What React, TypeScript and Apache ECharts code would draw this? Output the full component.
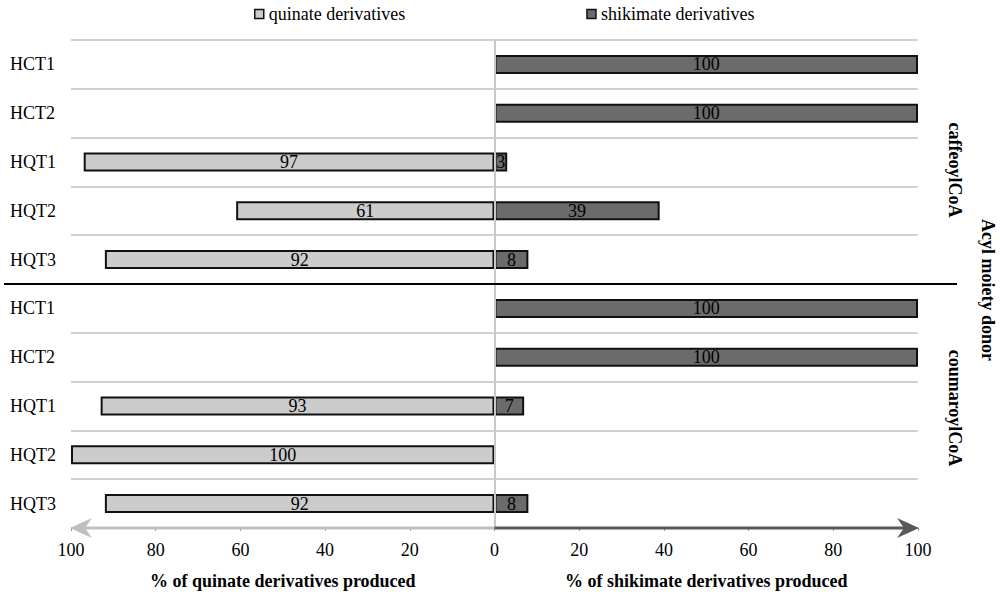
import React, { useEffect, useRef } from "react";
import * as echarts from "echarts";

const enzymes = ["HCT1", "HCT2", "HQT1", "HQT2", "HQT3"];
const donors = ["caffeoylCoA", "coumaroylCoA"];
const quinateCaffeoyl = [0, 0, 97, 61, 92];
const shikimateCaffeoyl = [100, 100, 3, 39, 8];
const quinateCoumaroyl = [0, 0, 93, 100, 92];
const shikimateCoumaroyl = [100, 100, 7, 0, 8];
const xTicks = [-100, -80, -60, -40, -20, 0, 20, 40, 60, 80, 100];
const seriesNames = ["quinate derivatives", "shikimate derivatives"];
const axisTitles = ["% of quinate derivatives produced", "% of shikimate derivatives produced"];
const groupTitle = "Acyl moiety donor";

const FONT = '"Liberation Serif", "Times New Roman", serif';

export default function App() {
  const ref = useRef<HTMLDivElement>(null);

  useEffect(() => {
    if (!ref.current) return;
    const chart = echarts.init(ref.current, null, { renderer: "svg" });

    const categories: string[] = [];
    donors.forEach((d) => enzymes.forEach((e) => categories.push(d + "|" + e)));
    const quinate = [...quinateCaffeoyl, ...quinateCoumaroyl].map((v) => (v === 0 ? "-" : -v));
    const shikimate = [...shikimateCaffeoyl, ...shikimateCoumaroyl].map((v) => (v === 0 ? "-" : v));

    const labelCfg = {
      show: true,
      position: "inside",
      color: "#000",
      fontFamily: FONT,
      fontSize: 18,
      formatter: (p: any) => String(Math.abs(p.value)),
    };

    chart.setOption({
      animation: false,
      backgroundColor: "#fff",
      textStyle: { fontFamily: FONT },
      legend: {
        data: seriesNames,
        left: 249,
        top: 0,
        icon: "rect",
        itemWidth: 9,
        itemHeight: 9,
        itemGap: 181,
        itemStyle: { borderColor: "#111", borderWidth: 1.5 },
        textStyle: { fontFamily: FONT, fontSize: 18, color: "#000" },
      },
      grid: { left: 71, right: 82, top: 40, bottom: 70, outerBoundsMode: "none" },
      xAxis: {
        type: "value",
        min: xTicks[0],
        max: xTicks[xTicks.length - 1],
        interval: 20,
        axisLine: { show: false },
        axisTick: { show: true, length: 3, lineStyle: { color: "#9a9a9a", width: 1 } },
        splitLine: { show: false },
        axisLabel: {
          margin: 13,
          color: "#000",
          fontFamily: FONT,
          fontSize: 18,
          formatter: (v: number) => String(Math.abs(v)),
        },
      },
      yAxis: {
        type: "category",
        inverse: true,
        data: categories,
        axisLine: { show: false },
        axisTick: { show: false },
        splitLine: { show: true, lineStyle: { color: "#d0d0d0", width: 2 } },
        axisLabel: {
          align: "left",
          margin: 61,
          color: "#000",
          fontFamily: FONT,
          fontSize: 18,
          formatter: (v: string) => v.split("|")[1],
        },
      },
      series: [
        {
          name: seriesNames[0],
          type: "bar",
          data: quinate,
          barWidth: 19,
          barGap: "-100%",
          itemStyle: { color: "#cccccc", borderColor: "#111", borderWidth: 2 },
          label: labelCfg,
          markLine: {
            silent: true,
            symbol: ["none", "none"],
            label: { show: false },
            lineStyle: { color: "#c8c8c8", width: 2, type: "solid" },
            data: [{ xAxis: 0 }],
          },
        },
        {
          name: seriesNames[1],
          type: "bar",
          data: shikimate,
          barWidth: 19,
          barGap: "-100%",
          itemStyle: { color: "#6b6b6b", borderColor: "#111", borderWidth: 2 },
          label: labelCfg,
        },
      ],
    });

    const px = (v: number) => chart.convertToPixel({ xAxisIndex: 0 }, v) as number;
    const py = (i: number) => chart.convertToPixel({ yAxisIndex: 0 }, categories[i]) as number;
    const x0 = px(0);
    const xL = px(-100);
    const xR = px(100);
    const band = py(1) - py(0);
    const yBottom = py(categories.length - 1) + band / 2;
    const yDivider = (py(4) + py(5)) / 2;
    const yTopMid = (py(0) + py(4)) / 2;
    const yBotMid = (py(5) + py(9)) / 2;

    const arrowHead = (tip: number, dir: number, color: string) => ({
      type: "polygon",
      shape: {
        points: [
          [tip, yBottom],
          [tip + dir * 22, yBottom - 10],
          [tip + dir * 15, yBottom],
          [tip + dir * 22, yBottom + 10],
        ],
      },
      style: { fill: color },
      z: 10,
    });

    chart.setOption({
      graphic: [
        {
          type: "line",
          shape: { x1: xL + 10, y1: yBottom, x2: x0, y2: yBottom },
          style: { stroke: "#bfbfbf", lineWidth: 3 },
          z: 10,
        },
        {
          type: "line",
          shape: { x1: x0, y1: yBottom, x2: xR - 10, y2: yBottom },
          style: { stroke: "#595959", lineWidth: 3 },
          z: 10,
        },
        arrowHead(xL - 1, 1, "#bfbfbf"),
        arrowHead(xR + 1, -1, "#595959"),
        {
          type: "line",
          shape: { x1: 4, y1: yDivider, x2: 957, y2: yDivider },
          style: { stroke: "#000", lineWidth: 2 },
          z: 10,
        },
        {
          type: "text",
          x: (xL + x0) / 2,
          y: 581,
          style: { text: axisTitles[0], font: `bold 18px ${FONT}`, fill: "#000", align: "center", verticalAlign: "middle" },
        },
        {
          type: "text",
          x: (x0 + xR) / 2,
          y: 581,
          style: { text: axisTitles[1], font: `bold 18px ${FONT}`, fill: "#000", align: "center", verticalAlign: "middle" },
        },
        {
          type: "text",
          x: 955,
          y: yTopMid + 8,
          rotation: -Math.PI / 2,
          style: { text: donors[0], font: `bold 18px ${FONT}`, fill: "#000", align: "center", verticalAlign: "middle" },
        },
        {
          type: "text",
          x: 955,
          y: yBotMid + 2,
          rotation: -Math.PI / 2,
          style: { text: donors[1], font: `bold 18px ${FONT}`, fill: "#000", align: "center", verticalAlign: "middle" },
        },
        {
          type: "text",
          x: 988,
          y: yDivider + 6,
          rotation: -Math.PI / 2,
          style: { text: groupTitle, font: `bold 18px ${FONT}`, fill: "#000", align: "center", verticalAlign: "middle" },
        },
      ],
    });

    return () => chart.dispose();
  }, []);

  return (
    <div
      ref={ref}
      style={{ position: "fixed", left: 0, top: 0, width: 1000, height: 598, background: "#fff" }}
    />
  );
}
